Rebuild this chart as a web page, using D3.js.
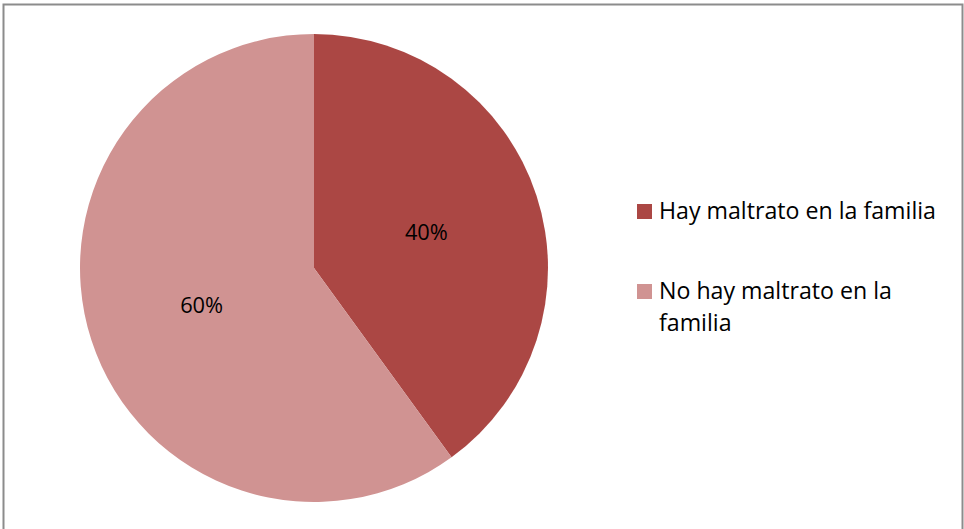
<!DOCTYPE html>
<html><head><meta charset="utf-8">
<script src="https://cdn.jsdelivr.net/npm/d3@7"></script>
<style>body{margin:0;background:#fff}svg{display:block}</style>
</head><body>
<svg id="c" width="964" height="529"></svg>
<script>
const categories = ["Hay maltrato en la familia", "No hay maltrato en la familia"];
const values = [40, 60];
const labels = ["40%", "60%"];
const colors = ["#AB4744", "#D09392"];

const svg = d3.select("#c");
const font = "'Open Sans', sans-serif";
svg.append("rect").attr("x",3.5).attr("y",4.5).attr("width",959).attr("height",530)
  .attr("fill","#fff").attr("stroke","#8c8c8c").attr("stroke-width",2);

const cx = 314, cy = 268, r = 234;
const pie = d3.pie().sort(null).value(d => d)(values);
const arc = d3.arc().innerRadius(0).outerRadius(r);
const g = svg.append("g").attr("transform", `translate(${cx},${cy})`);
g.selectAll("path").data(pie).join("path").attr("d", arc).attr("fill", (d,i)=>colors[i]);

const labArc = d3.arc().innerRadius(r*0.505).outerRadius(r*0.505);
const lt = g.selectAll("text").data(pie).join("text")
  .attr("transform", d => { const c = labArc.centroid(d); return `translate(${c[0]},${c[1]})`; })
  .attr("text-anchor","middle").attr("dominant-baseline","central")
  .attr("font-family", font).attr("font-size", 20).attr("fill","#000")
  .text((d,i)=>labels[i]);
const lw = lt.node().getComputedTextLength();
lt.attr("font-size", 20*43/lw);

// legend
const leg = svg.append("g");
const legY = [211, 291];
const lines = [["Hay maltrato en la familia"], ["No hay maltrato en la", "familia"]];
const texts = [];
categories.forEach((c,i) => {
  leg.append("rect").attr("x",637).attr("y",legY[i]-7).attr("width",15).attr("height",15).attr("fill",colors[i]);
  const t = leg.append("text").attr("x",659).attr("y",legY[i]+8)
    .attr("font-family", font).attr("font-size", 20).attr("fill","#000");
  lines[i].forEach((l,j) => t.append("tspan").attr("x",659).attr("dy", j===0?0:32).text(l));
  texts.push(t);
});
const w0 = texts[0].node().getComputedTextLength();
texts.forEach(t => t.attr("font-size", 20*277/w0));
</script>
</body></html>
